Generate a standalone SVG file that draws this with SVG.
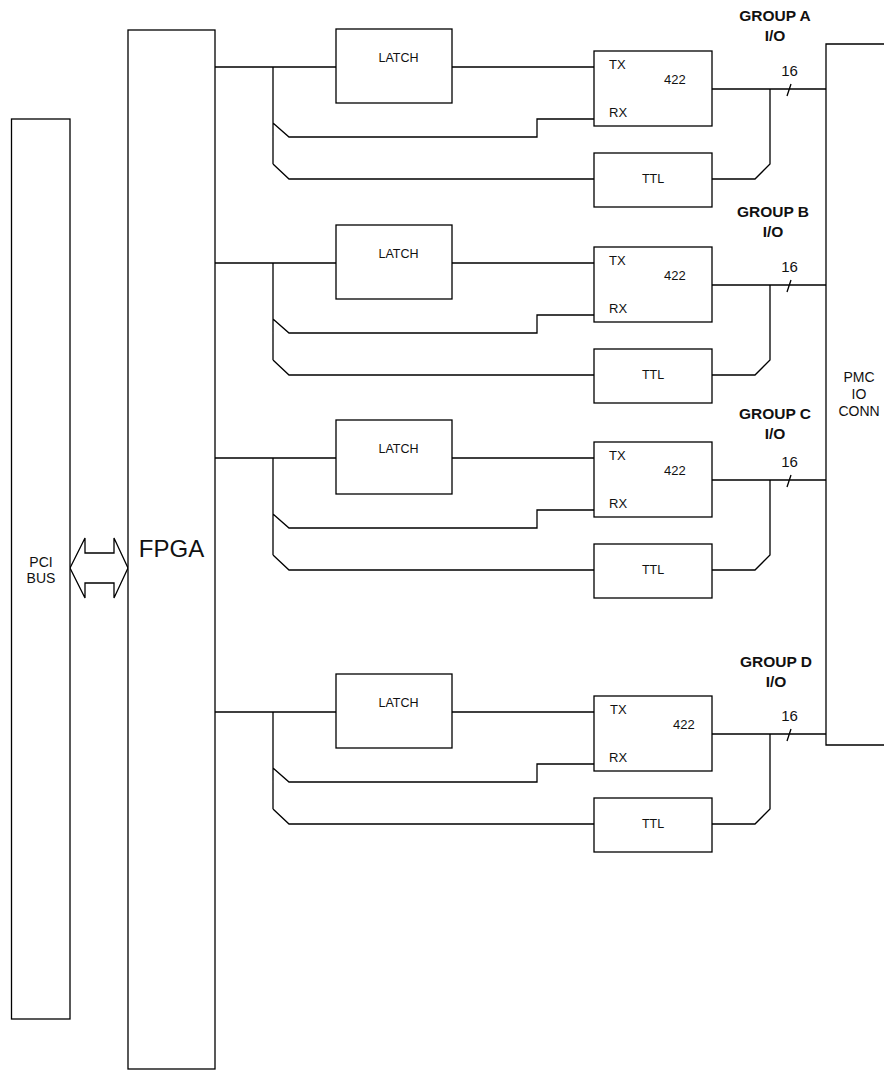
<svg xmlns="http://www.w3.org/2000/svg" width="884" height="1070" viewBox="0 0 884 1070">
<defs>
<style>
.box{fill:#fff;stroke:#000;stroke-width:1.3}
.ln{fill:none;stroke:#000;stroke-width:1.3}
text{font-family:"Liberation Sans",Arial,sans-serif;fill:#111}
.s{font-size:13px}
.m{font-size:12.5px;text-anchor:middle}
.g{font-size:15.5px;font-weight:bold;text-anchor:middle}
.n{font-size:15px;text-anchor:middle}
.p{font-size:14px;text-anchor:middle}
</style>
<g id="grp">
<path class="ln" d="M215,67 H336 M273,67 V164 M273,123 L289,137 H537 V119 H594 M289,137 M273,164 L289,179 H594 M452,67 H594 M712,89 H826 M712,179 H755 L770,164 V89 M791,84 L787,96"/>
</g>
</defs>
<g id="connectors">
<use href="#grp"/>
<use href="#grp" transform="translate(0,196)"/>
<use href="#grp" transform="translate(0,391)"/>
<use href="#grp" transform="translate(0,645)"/>
<path class="ln" d="M884,44 H826 V745 H884"/>
<polygon class="box" points="70,568 85,538 85,553 114,553 114,538 128,568 114,598 114,583 85,583 85,598"/>
</g>
<g id="pci">
<rect class="box" x="11.5" y="119" width="58.5" height="900"/>
<text class="p" x="41" y="567">PCI</text>
<text class="p" x="41" y="583">BUS</text>
</g>
<g id="fpga">
<rect class="box" x="128" y="30" width="87" height="1039"/>
<text x="171.5" y="557" style="font-size:24px;text-anchor:middle">FPGA</text>
</g>
<g id="pmc">
<text class="p" x="859" y="382">PMC</text>
<text class="p" x="859" y="399">IO</text>
<text class="p" x="859" y="416">CONN</text>
</g>
<g id="groupA">
<rect class="box" x="336" y="29" width="116" height="74"/>
<text class="m" x="398.5" y="62">LATCH</text>
<rect class="box" x="594" y="51" width="118" height="75"/>
<text class="s" x="609" y="69">TX</text>
<text class="s" x="664" y="84">422</text>
<text class="s" x="609" y="117">RX</text>
<rect class="box" x="594" y="153" width="118" height="54"/>
<text class="m" x="653" y="183">TTL</text>
<text class="g" x="775" y="21">GROUP A</text>
<text class="g" x="775" y="41">I/O</text>
<text class="n" x="789.5" y="76">16</text>
</g>
<g id="groupB" transform="translate(0,196)">
<rect class="box" x="336" y="29" width="116" height="74"/>
<text class="m" x="398.5" y="62">LATCH</text>
<rect class="box" x="594" y="51" width="118" height="75"/>
<text class="s" x="609" y="69">TX</text>
<text class="s" x="664" y="84">422</text>
<text class="s" x="609" y="117">RX</text>
<rect class="box" x="594" y="153" width="118" height="54"/>
<text class="m" x="653" y="183">TTL</text>
<text class="g" x="773" y="21">GROUP B</text>
<text class="g" x="773" y="41">I/O</text>
<text class="n" x="789.5" y="76">16</text>
</g>
<g id="groupC" transform="translate(0,391)">
<rect class="box" x="336" y="29" width="116" height="74"/>
<text class="m" x="398.5" y="62">LATCH</text>
<rect class="box" x="594" y="51" width="118" height="75"/>
<text class="s" x="609" y="69">TX</text>
<text class="s" x="664" y="84">422</text>
<text class="s" x="609" y="117">RX</text>
<rect class="box" x="594" y="153" width="118" height="54"/>
<text class="m" x="653" y="183">TTL</text>
<text class="g" x="775" y="28">GROUP C</text>
<text class="g" x="775" y="48">I/O</text>
<text class="n" x="789.5" y="76">16</text>
</g>
<g id="groupD" transform="translate(0,645)">
<rect class="box" x="336" y="29" width="116" height="74"/>
<text class="m" x="398.5" y="62">LATCH</text>
<rect class="box" x="594" y="51" width="118" height="75"/>
<text class="s" x="610" y="69">TX</text>
<text class="s" x="673" y="84">422</text>
<text class="s" x="609" y="117">RX</text>
<rect class="box" x="594" y="153" width="118" height="54"/>
<text class="m" x="653" y="183">TTL</text>
<text class="g" x="776" y="22">GROUP D</text>
<text class="g" x="776" y="42">I/O</text>
<text class="n" x="789.5" y="76">16</text>
</g>
</svg>
